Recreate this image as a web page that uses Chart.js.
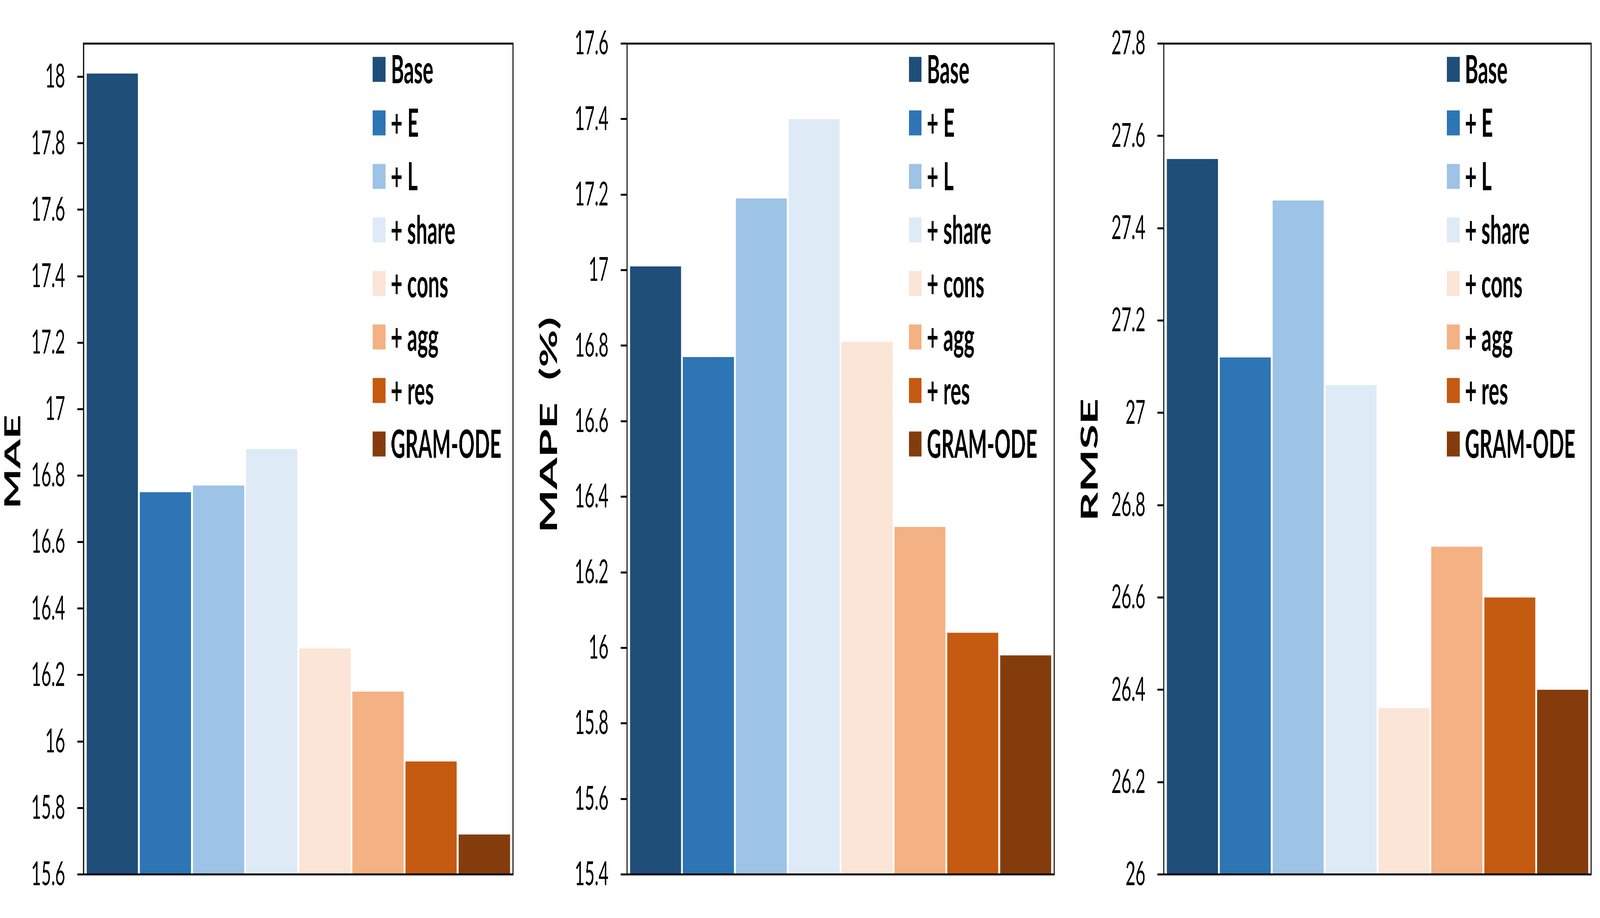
<!DOCTYPE html>
<html>
<head>
<meta charset="utf-8">
<script src="https://cdn.jsdelivr.net/npm/chart.js@4.4.1/dist/chart.umd.min.js"></script>
<style>
html,body{margin:0;padding:0;background:#fff;overflow:hidden;}
#wrap{position:absolute;left:0;top:0;width:8000px;height:2350px;background:#fff;overflow:hidden;transform-origin:0 0;}
canvas{position:absolute;top:0;}
</style>
</head>
<body>
<div id="wrap">
<canvas id="c1" width="2650" height="2350" style="left:0px;width:2650px;height:2350px"></canvas>
<canvas id="c2" width="2650" height="2350" style="left:2650px;width:2650px;height:2350px"></canvas>
<canvas id="c3" width="2700" height="2350" style="left:5300px;width:2700px;height:2350px"></canvas>
</div>
<script>
// ---- data ----
const variants = ['Base', '+ E', '+ L', '+ share', '+ cons', '+ agg', '+ res', 'GRAM-ODE'];
const maeValues  = [18.01, 16.75, 16.77, 16.88, 16.28, 16.15, 15.94, 15.72];
const mapeValues = [17.01, 16.77, 17.19, 17.40, 16.81, 16.32, 16.04, 15.98];
const rmseValues = [27.55, 27.12, 27.46, 27.06, 26.36, 26.71, 26.60, 26.40];
const maeTicks  = [15.6, 15.8, 16, 16.2, 16.4, 16.6, 16.8, 17, 17.2, 17.4, 17.6, 17.8, 18];
const mapeTicks = [15.4, 15.6, 15.8, 16, 16.2, 16.4, 16.6, 16.8, 17, 17.2, 17.4, 17.6];
const rmseTicks = [26, 26.2, 26.4, 26.6, 26.8, 27, 27.2, 27.4, 27.6, 27.8];
const axisTitles = ['MAE', 'MAPE  (%)', 'RMSE'];

// ---- styles ----
const barColors = ['#1F4E79', '#2E75B6', '#9DC3E6', '#DEEBF7', '#FBE5D6', '#F4B183', '#C55A11', '#843C0C'];

// fit the 8000x2350 figure into whatever viewport is actually available
(function fit() {
  const w = window.innerWidth || 8000, h = window.innerHeight || 2350;
  const sx = w / 8000, sy = h / 2350;
  if (Math.abs(sx - 1) > 0.01 || Math.abs(sy - 1) > 0.01) {
    document.getElementById('wrap').style.transform = 'scale(' + sx + ',' + sy + ')';
  }
})();

const framePlugin = {
  id: 'frame',
  afterDatasetsDraw(chart) {
    const {ctx, chartArea: a} = chart;
    ctx.save();
    ctx.strokeStyle = '#000';
    ctx.lineWidth = 5;
    ctx.strokeRect(a.left, a.top, a.right - a.left, a.bottom - a.top);
    ctx.restore();
  }
};

const insideLegend = {
  id: 'insideLegend',
  afterDraw(chart, args, opts) {
    const {ctx, chartArea: a} = chart;
    ctx.save();
    ctx.font = 'bold 100px Lato';
    ctx.textAlign = 'left';
    ctx.textBaseline = 'alphabetic';
    chart.data.datasets.forEach((ds, i) => {
      const cy = a.top + opts.firstRow + i * opts.rowGap;
      const x = a.left + opts.left;
      ctx.fillStyle = ds.backgroundColor;
      ctx.fillRect(x, cy - 32, 64, 64);
      ctx.fillStyle = '#000';
      ctx.fillText(ds.label, x + opts.textGap, cy + 35);
    });
    ctx.restore();
  }
};

const yTitle = {
  id: 'yTitle',
  afterDraw(chart, args, opts) {
    const {ctx} = chart;
    ctx.save();
    ctx.translate(opts.x, opts.y);
    ctx.rotate(-Math.PI / 2);
    ctx.font = 'bold ' + opts.size + 'px Lato';
    ctx.textAlign = 'center';
    ctx.textBaseline = 'alphabetic';
    ctx.fillStyle = '#000';
    ctx.fillText(opts.text, 0, 0);
    ctx.restore();
  }
};

function fmt(v) { return String(Number(v.toFixed(1))); }

function makeChart(id, values, ticks, min, max, title, layout) {
  const datasets = variants.map((name, i) => ({
    label: name,
    data: [values[i]],
    backgroundColor: barColors[i],
    borderWidth: 0,
    categoryPercentage: 0.99,
    barPercentage: 0.966
  }));
  return new Chart(document.getElementById(id), {
    type: 'bar',
    data: { labels: [''], datasets },
    options: {
      responsive: false,
      animation: false,
      devicePixelRatio: 1,
      layout: { padding: { top: 50, bottom: 45, left: 0, right: layout.padRight } },
      plugins: {
        legend: { display: false },
        tooltip: { enabled: false },
        insideLegend: { left: layout.legendLeft, firstRow: 66, rowGap: 137, textGap: 90 },
        yTitle: { text: title, x: layout.titleX, y: layout.titleY, size: layout.titleSize }
      },
      scales: {
        x: { display: false },
        y: {
          min: min, max: max,
          afterBuildTicks: (axis) => { axis.ticks = ticks.map(v => ({ value: v })); },
          afterFit: (axis) => { axis.width = layout.yWidth; },
          border: { display: false },
          grid: {
            display: true, drawOnChartArea: false, drawTicks: true,
            tickLength: 32, tickWidth: 5, tickColor: '#000', color: '#000', lineWidth: 5
          },
          ticks: {
            autoSkip: false, padding: 60, color: '#000',
            font: { family: 'Lato', size: 86 },
            callback: (v) => fmt(v)
          }
        }
      }
    },
    plugins: [framePlugin, insideLegend, yTitle]
  });
}

function build() {
  makeChart('c1', maeValues, maeTicks, 15.6, 18.1, axisTitles[0],
    { yWidth: 418, padRight: 85, legendLeft: 1446, titleX: 101, titleY: 1182, titleSize: 109 });
  makeChart('c2', mapeValues, mapeTicks, 15.4, 17.6, axisTitles[1],
    { yWidth: 485, padRight: 29, legendLeft: 1409, titleX: 135, titleY: 1088, titleSize: 118 });
  makeChart('c3', rmseValues, rmseTicks, 26, 27.8, axisTitles[2],
    { yWidth: 519, padRight: 44, legendLeft: 1416, titleX: 188, titleY: 1177, titleSize: 116 });
}

Promise.all([
  document.fonts.load('86px Lato'),
  document.fonts.load('bold 100px Lato')
]).then(build, build);
</script>
</body>
</html>
